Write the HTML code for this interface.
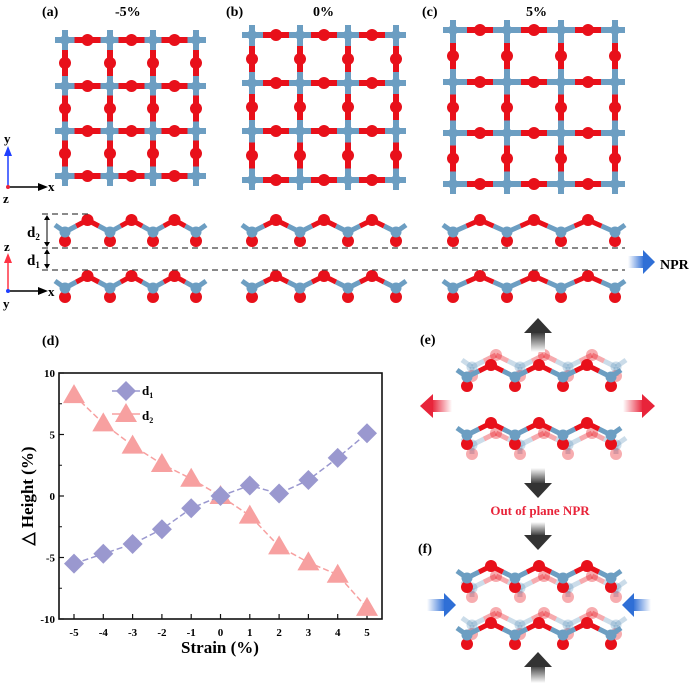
<!DOCTYPE html>
<html><head><meta charset="utf-8">
<style>
html,body{margin:0;padding:0;background:#fff;}
svg{display:block;font-family:"Liberation Serif",serif;font-weight:bold;}
</style></head>
<body>
<svg id="fig" width="700" height="683" viewBox="0 0 700 683" xmlns="http://www.w3.org/2000/svg">
<defs>
<linearGradient id="gUp" x1="0" y1="1" x2="0" y2="0"><stop offset="0" stop-color="#fff"/><stop offset="1" stop-color="#333"/></linearGradient>
<linearGradient id="gDown" x1="0" y1="0" x2="0" y2="1"><stop offset="0" stop-color="#fff"/><stop offset="1" stop-color="#333"/></linearGradient>
<linearGradient id="gRedL" x1="1" y1="0" x2="0" y2="0"><stop offset="0" stop-color="#fff"/><stop offset="1" stop-color="#e8243a"/></linearGradient>
<linearGradient id="gRedR" x1="0" y1="0" x2="1" y2="0"><stop offset="0" stop-color="#fff"/><stop offset="1" stop-color="#e8243a"/></linearGradient>
<linearGradient id="gBlueR" x1="0" y1="0" x2="1" y2="0"><stop offset="0" stop-color="#fff"/><stop offset="1" stop-color="#2f6fd6"/></linearGradient>
<linearGradient id="gBlueL" x1="1" y1="0" x2="0" y2="0"><stop offset="0" stop-color="#fff"/><stop offset="1" stop-color="#2f6fd6"/></linearGradient>
</defs>
<g id="mol"></g>
<g id="labels" font-size="14">
<text x="42" y="16">(a)</text>
<text x="115" y="16">-5%</text>
<text x="226" y="16">(b)</text>
<text x="313" y="16">0%</text>
<text x="422" y="16">(c)</text>
<text x="526" y="16">5%</text>
<text x="660" y="269" font-size="14">NPR</text>
<text x="42" y="345">(d)</text>
<text x="420" y="344">(e)</text>
<text x="418" y="553">(f)</text>
<text x="540" y="515" fill="#e8243a" font-size="13" text-anchor="middle">Out of plane NPR</text>
</g>
<g id="axes-icons">
<line x1="8" y1="187" x2="8" y2="152" stroke="#1f3fff" stroke-width="1.5"/><polygon points="4,156 8,146 12,156" fill="#1f3fff"/>
<line x1="8" y1="187" x2="42" y2="187" stroke="#000" stroke-width="1.5"/><polygon points="38,183 48,187 38,191" fill="#000"/>
<circle cx="8" cy="187" r="2" fill="#e8243a"/>
<text x="4" y="143" font-size="13">y</text><text x="48" y="191" font-size="13">x</text><text x="3" y="203" font-size="13">z</text>
<line x1="8" y1="291" x2="8" y2="259" stroke="#ff3344" stroke-width="1.5"/><polygon points="4,263 8,253 12,263" fill="#ff3344"/>
<line x1="8" y1="291" x2="42" y2="291" stroke="#000" stroke-width="1.5"/><polygon points="38,287 48,291 38,295" fill="#000"/>
<circle cx="8" cy="291" r="2" fill="#1f3fff"/>
<text x="4" y="251" font-size="13">z</text><text x="48" y="296" font-size="13">x</text><text x="3" y="308" font-size="13">y</text>
</g>
<g stroke="#444" stroke-dasharray="6,4" stroke-width="1.2">
<line x1="42" y1="214" x2="88" y2="214"/>
<line x1="42" y1="248" x2="625" y2="248"/>
<line x1="42" y1="270" x2="625" y2="270"/>
</g>
<g stroke="#000" stroke-width="1" fill="#000">
<line x1="47" y1="216" x2="47" y2="246"/><polygon points="44,220 47,215 50,220" stroke="none"/><polygon points="44,242 47,247 50,242" stroke="none"/>
<line x1="47" y1="250" x2="47" y2="268"/><polygon points="44,254 47,249 50,254" stroke="none"/><polygon points="44,264 47,269 50,264" stroke="none"/>
</g>
<text x="27" y="237" font-size="15">d<tspan font-size="9" dy="3">2</tspan></text>
<text x="27" y="265" font-size="15">d<tspan font-size="9" dy="3">1</tspan></text>
<g><rect x="628" y="256" width="16" height="12" fill="url(#gBlueR)"/><polygon points="643,250 655,262 643,274" fill="#2f6fd6"/></g>
<g id="bigArrows">
<rect x="531" y="332" width="14" height="20" fill="url(#gUp)"/><polygon points="524,333 538,318 552,333" fill="#333"/>
<rect x="531" y="468" width="14" height="16" fill="url(#gDown)"/><polygon points="524,483 538,498 552,483" fill="#333"/>
<rect x="531" y="522" width="14" height="14" fill="url(#gDown)"/><polygon points="524,535 538,550 552,535" fill="#333"/>
<rect x="531" y="665" width="14" height="18" fill="url(#gUp)"/><polygon points="524,667 538,652 552,667" fill="#333"/>
<rect x="432" y="400" width="20" height="12" fill="url(#gRedL)"/><polygon points="433,394 420,406 433,418" fill="#e8243a"/>
<rect x="623" y="400" width="20" height="12" fill="url(#gRedR)"/><polygon points="642,394 655,406 642,418" fill="#e8243a"/>
<rect x="427" y="599" width="18" height="12" fill="url(#gBlueR)"/><polygon points="444,593 456,605 444,617" fill="#2f6fd6"/>
<rect x="633" y="599" width="18" height="12" fill="url(#gBlueL)"/><polygon points="634,593 622,605 634,617" fill="#2f6fd6"/>
</g>
<g id="chart"></g>
</svg>
<script>
const NS='http://www.w3.org/2000/svg';
function mk(parent,tag,attrs){const e=document.createElementNS(NS,tag);for(const k in attrs)e.setAttribute(k,attrs[k]);parent.appendChild(e);return e;}
const mol=document.getElementById('mol');
const SI='#6c9ec2',OX='#e8101a';
function bond(g,x1,y1,x2,y2,op){
  const mx=(x1+x2)/2,my=(y1+y2)/2;
  mk(g,'line',{x1:x1,y1:y1,x2:mx,y2:my,stroke:SI,'stroke-width':5,opacity:op});
  mk(g,'line',{x1:mx,y1:my,x2:x2,y2:y2,stroke:OX,'stroke-width':5,opacity:op});
}
function grid(name,xs,ys){
  const g=mk(mol,'g',{});
  
  
  for(const y of ys){mk(g,'line',{x1:xs[0]-10,y1:y,x2:xs[3]+10,y2:y,stroke:SI,'stroke-width':6});}
  for(const x of xs){mk(g,'line',{x1:x,y1:ys[0]-10,x2:x,y2:ys[3]+10,stroke:SI,'stroke-width':6});}
  for(const y of ys)for(let i=0;i<3;i++){const m=(xs[i]+xs[i+1])/2;mk(g,'line',{x1:m-13,y1:y,x2:m+13,y2:y,stroke:OX,'stroke-width':6});mk(g,'circle',{cx:m,cy:y,r:6,fill:OX});}
  for(const x of xs)for(let j=0;j<3;j++){const m=(ys[j]+ys[j+1])/2;mk(g,'line',{x1:x,y1:m-13,x2:x,y2:m+13,stroke:OX,'stroke-width':6});mk(g,'circle',{cx:x,cy:m,r:6,fill:OX});}
  for(const x of xs)for(const y of ys)mk(g,'circle',{cx:x,cy:y,r:5,fill:SI});
}
function chain(name,xs,y,op){
  const g=mk(mol,'g',{});
  
  
  for(let i=0;i<xs.length;i++){
    const x=xs[i];
    if(i===0)mk(g,'line',{x1:x,y1:y,x2:x-10,y2:y-7,stroke:SI,'stroke-width':5,opacity:op});
    if(i===xs.length-1)mk(g,'line',{x1:x,y1:y,x2:x+10,y2:y-7,stroke:SI,'stroke-width':5,opacity:op});
    mk(g,'line',{x1:x,y1:y,x2:x,y2:y+9,stroke:SI,'stroke-width':5,opacity:op});
    if(i<xs.length-1){const m=(x+xs[i+1])/2;bond(g,x,y,m,y-12,op);bond(g,xs[i+1],y,m,y-12,op);mk(g,'circle',{cx:m,cy:y-12,r:6,fill:OX,opacity:op});}
    mk(g,'circle',{cx:x,cy:y+9,r:6,fill:OX,opacity:op});
    mk(g,'circle',{cx:x,cy:y,r:5.5,fill:SI,opacity:op});
  }
}
const xa=[65,110,153,196],xb=[252,300,348,396],xc=[453,507,561,615];
grid('top-view-a',xa,[40,86,131,176]);
grid('top-view-b',xb,[35,83,131,180]);
grid('top-view-c',xc,[30,82,133,184]);
chain('side-view-a-upper',xa,232,1);chain('side-view-a-lower',xa,288,1);
chain('side-view-b-upper',xb,232,1);chain('side-view-b-lower',xb,288,1);
chain('side-view-c-upper',xc,232,1);chain('side-view-c-lower',xc,288,1);
const xe=[467,515,563,611];
chain('panel-e-ghost-upper',xe.map(v=>v+5),367,0.35);chain('panel-e-upper',xe,377,1);
chain('panel-e-ghost-lower',xe.map(v=>v+5),445,0.35);chain('panel-e-lower',xe,435,1);
chain('panel-f-ghost-upper',xe.map(v=>v+5),588,0.35);chain('panel-f-upper',xe,578,1);
chain('panel-f-ghost-lower',xe.map(v=>v+5),625,0.35);chain('panel-f-lower',xe,635,1);

// ---- chart ----
const strain=[-5,-4,-3,-2,-1,0,1,2,3,4,5];
const d1=[-5.5,-4.7,-3.9,-2.7,-1.0,0,0.85,0.2,1.3,3.1,5.1];
const d2=[8.2,5.9,4.1,2.6,1.4,0,-1.6,-4.1,-5.4,-6.4,-9.1];
const yTicks=[-10,-5,0,5,10];
const xTicks=[-5,-4,-3,-2,-1,0,1,2,3,4,5];
const L=59,R=382,T=373,B=619;
function sx(v){return 74+(v+5)/10*(367-74);}
function sy(v){return B-(v+10)/20*(B-T);}
const ch=document.getElementById('chart');
const frame=mk(ch,'rect',{x:L,y:T,width:R-L,height:B-T,fill:'none',stroke:'#111','stroke-width':1.6});


for(const t of yTicks){
  mk(ch,'line',{x1:L,y1:sy(t),x2:L+5,y2:sy(t),stroke:'#111','stroke-width':1.2});
  const lb=mk(ch,'text',{x:L-4,y:sy(t)+4,'text-anchor':'end','font-size':11});lb.textContent=t;
  
  
}
for(let t=-7.5;t<=7.5;t+=5)mk(ch,'line',{x1:L,y1:sy(t),x2:L+3,y2:sy(t),stroke:'#111','stroke-width':1});
for(const t of xTicks){
  mk(ch,'line',{x1:sx(t),y1:B,x2:sx(t),y2:B-5,stroke:'#111','stroke-width':1.2});
  const lb=mk(ch,'text',{x:sx(t),y:B+17,'text-anchor':'middle','font-size':11});lb.textContent=t;
  
  
}
const xt=mk(ch,'text',{x:220,y:653,'text-anchor':'middle','font-size':17});xt.textContent='Strain (%)';


const yt=mk(ch,'text',{x:0,y:0,'text-anchor':'middle','font-size':17,transform:'translate(33,496) rotate(-90)'});yt.textContent='\u25B3 Height (%)';


function series(vals,color,marker,name){
  const g=mk(ch,'g',{});
  
  
  mk(g,'polyline',{points:vals.map((v,i)=>sx(strain[i])+','+sy(v)).join(' '),fill:'none',stroke:color,'stroke-width':1.5,'stroke-dasharray':'6,3'});
  vals.forEach((v,i)=>{
    const x=sx(strain[i]),y=sy(v);let m;
    if(marker==='d')m=mk(g,'polygon',{points:`${x},${y-10} ${x+10},${y} ${x},${y+10} ${x-10},${y}`,fill:color});
    else m=mk(g,'polygon',{points:`${x},${y-11} ${x+11},${y+8} ${x-11},${y+8}`,fill:color});
    
    
  });
}
series(d2,'#f7a0a0','t','d2-series');
series(d1,'#9a98cf','d','d1-series');
const lg=mk(ch,'g',{});


mk(lg,'line',{x1:112,y1:391,x2:140,y2:391,stroke:'#9a98cf','stroke-width':1.5});
mk(lg,'polygon',{points:'126,381 136,391 126,401 116,391',fill:'#9a98cf'});
const l1=mk(lg,'text',{x:142,y:395,'font-size':13});l1.innerHTML='d<tspan font-size="8" dy="3">1</tspan>';
mk(lg,'line',{x1:112,y1:414,x2:140,y2:414,stroke:'#f7a0a0','stroke-width':1.5});
mk(lg,'polygon',{points:'126,403 137,422 115,422',fill:'#f7a0a0'});
const l2=mk(lg,'text',{x:142,y:420,'font-size':13});l2.innerHTML='d<tspan font-size="8" dy="3">2</tspan>';
</script>
</body></html>
